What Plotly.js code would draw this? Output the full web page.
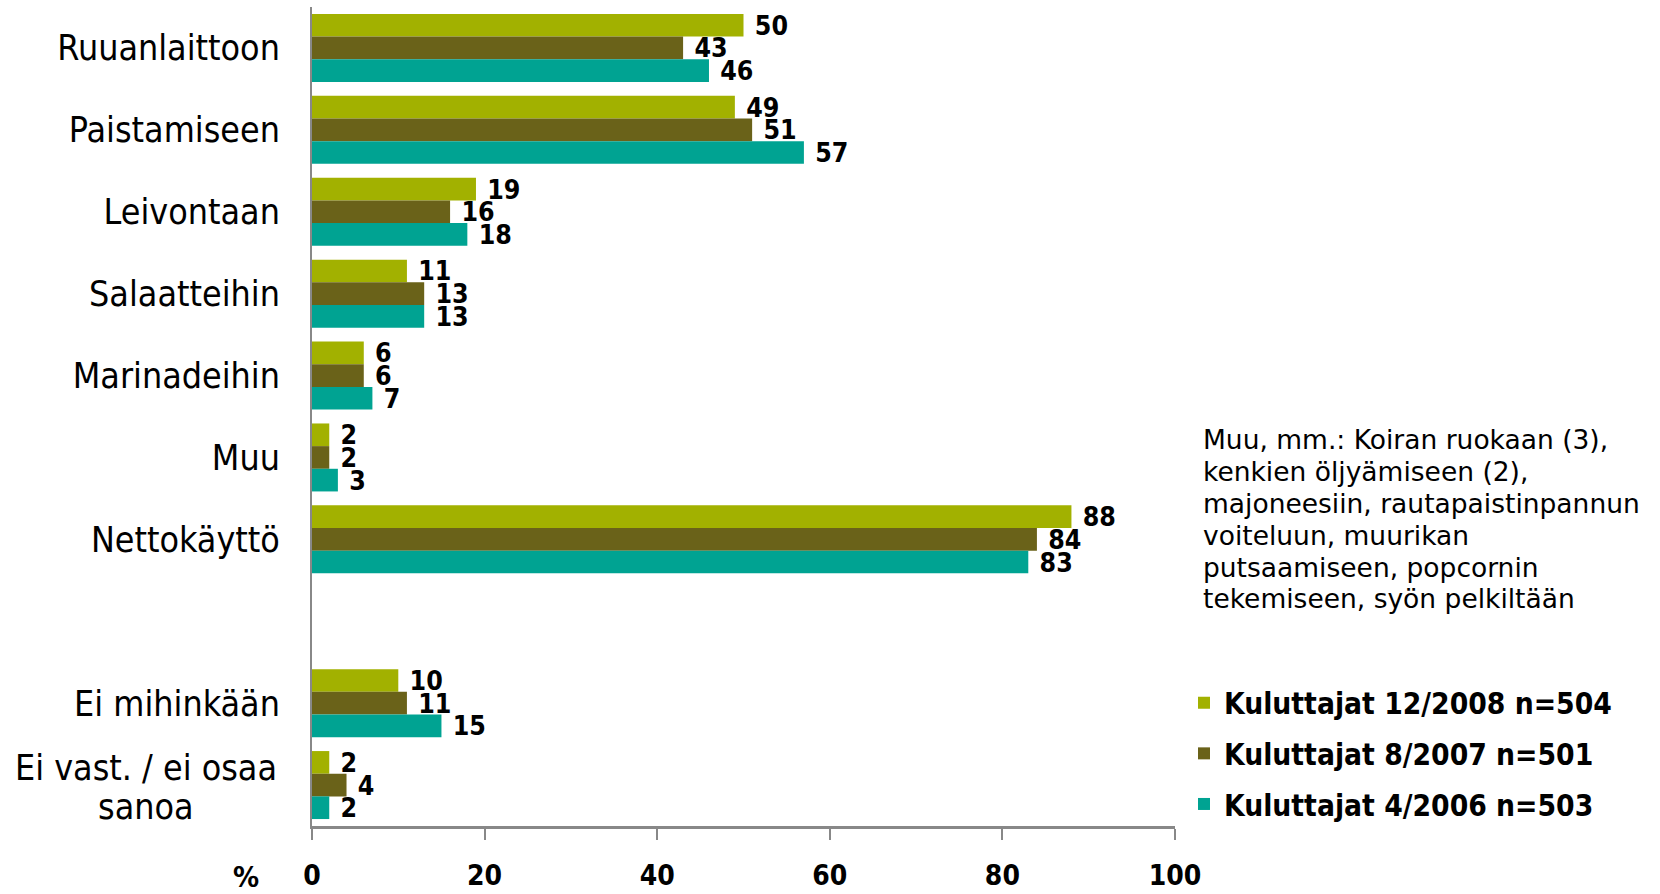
<!DOCTYPE html>
<html>
<head>
<meta charset="utf-8">
<script src="https://cdn.plot.ly/plotly-3.0.1.min.js"></script>
<style>html,body{margin:0;padding:0;background:#fff;}#chart{width:1660px;height:894px;}</style>
</head>
<body>
<div id="chart"></div>
<script>
// Categories (a blank spacer row sits between Nettokäyttö and Ei mihinkään)
const categories = ["Ruuanlaittoon", "Paistamiseen", "Leivontaan", "Salaatteihin", "Marinadeihin", "Muu", "Nettokäyttö", " ", "Ei mihinkään", "Ei vast. / ei osaa sanoa"];
const tickLabels = ["Ruuanlaittoon", "Paistamiseen", "Leivontaan", "Salaatteihin", "Marinadeihin", "Muu", "Nettokäyttö", "", "Ei mihinkään", ""];
const multiLineLabel = ["Ei vast. / ei osaa", "sanoa"];

const seriesNames = ["Kuluttajat 12/2008 n=504", "Kuluttajat 8/2007 n=501", "Kuluttajat 4/2006 n=503"];
const values2008 = [50, 49, 19, 11, 6, 2, 88, null, 10, 2];
const values2007 = [43, 51, 16, 13, 6, 2, 84, null, 11, 4];
const values2006 = [46, 57, 18, 13, 7, 3, 83, null, 15, 2];
const xTicks = [0, 20, 40, 60, 80, 100];

const noteLines = [
  "Muu, mm.: Koiran ruokaan (3),",
  "kenkien öljyämiseen (2),",
  "majoneesiin, rautapaistinpannun",
  "voiteluun, muurikan",
  "putsaamiseen, popcornin",
  "tekemiseen, syön pelkiltään"
];

const colors = ["#A2B100", "#6A6219", "#00A392"];
const condensed = "'DejaVu Sans Condensed', 'DejaVu Sans', sans-serif";
const allSeries = [values2008, values2007, values2006];

const traces = allSeries.map((vals, i) => ({
  type: "bar",
  orientation: "h",
  name: seriesNames[i],
  legendgroup: "g" + i,
  y: categories,
  x: vals,
  marker: {color: colors[i], line: {width: 0}},
  texttemplate: "\u00a0%{x}",
  textposition: "outside",
  constraintext: "none",
  cliponaxis: false,
  textfont: {family: condensed, size: 26.5, color: "#000", weight: "bold"},
  hoverinfo: "x+name"
}));

// plot area geometry helpers (pixels -> paper)
const PLOT_TOP = 7, PLOT_H = 819, PLOT_L = 312, PLOT_W = 863;
const py = (p) => 1 - (p - PLOT_TOP) / PLOT_H;
const px = (p) => (p - PLOT_L) / PLOT_W;

const annotations = [];
const lastIdx = categories.indexOf("Ei vast. / ei osaa sanoa");
multiLineLabel.forEach((line, i) => {
  annotations.push({
    xref: "paper", yref: "y", x: px(146), y: lastIdx,
    xanchor: "center", yanchor: "middle", showarrow: false,
    yshift: i === 0 ? 18 : -21,
    text: line,
    font: {family: condensed, size: 35.5, color: "#000"}
  });
});
noteLines.forEach((line, i) => {
  annotations.push({
    xref: "paper", yref: "paper", x: px(1201), y: py(439.4 + 31.9 * i),
    xanchor: "left", yanchor: "middle", align: "left", showarrow: false,
    text: line,
    font: {family: "'DejaVu Sans', sans-serif", size: 26.5, color: "#000"}
  });
});
annotations.push({
  xref: "paper", yref: "paper", x: px(246), y: py(877),
  xanchor: "center", yanchor: "middle", showarrow: false,
  text: "%",
  font: {family: condensed, size: 29, color: "#000", weight: "bold"}
});

const layout = {
  width: 1660, height: 894,
  margin: {l: PLOT_L, r: 1660 - PLOT_L - PLOT_W, t: PLOT_TOP, b: 894 - PLOT_TOP - PLOT_H},
  paper_bgcolor: "#fff", plot_bgcolor: "#fff",
  barmode: "group",
  bargap: 0.17,
  bargroupgap: 0,
  showlegend: true,
  legend: {
    x: 1.0104, xanchor: "left", y: 0.182, yanchor: "top",
    font: {family: condensed, size: 29.7, color: "#000", weight: "bold"},
    tracegroupgap: 9, traceorder: "grouped",
    bgcolor: "rgba(0,0,0,0)"
  },
  xaxis: {
    range: [0, 100], tickvals: xTicks, ticktext: xTicks.map(String),
    showgrid: false, zeroline: false,
    showline: true, linecolor: "#888", linewidth: 3,
    ticks: "outside", ticklen: 11, tickwidth: 2, tickcolor: "#888",
    ticklabelstandoff: 11,
    tickfont: {family: condensed, size: 28, color: "#000", weight: "bold"}
  },
  yaxis: {
    type: "category", autorange: "reversed",
    categoryorder: "array", categoryarray: categories,
    tickmode: "array", tickvals: categories, ticktext: tickLabels,
    showgrid: false, zeroline: false,
    showline: true, linecolor: "#888", linewidth: 2,
    ticks: "", ticklabelstandoff: 23,
    tickfont: {family: condensed, size: 35.5, color: "#000"}
  },
  annotations: annotations
};

Plotly.newPlot("chart", traces, layout, {displayModeBar: false, staticPlot: true});
</script>
</body>
</html>
